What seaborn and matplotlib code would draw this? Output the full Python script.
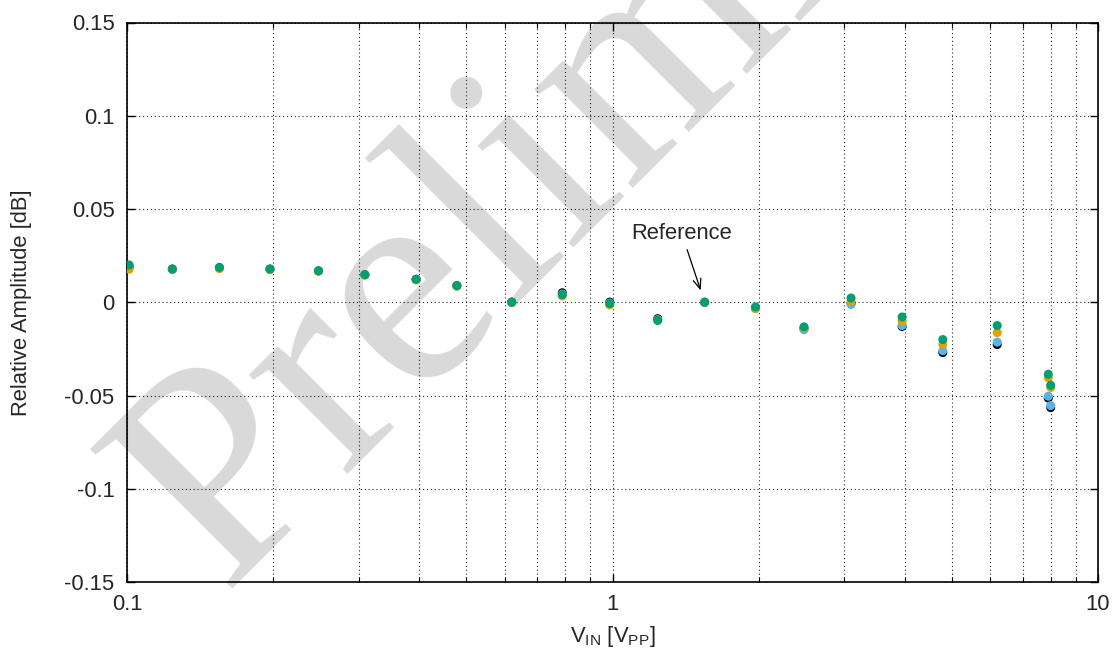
import numpy as np
import pandas as pd
import matplotlib
matplotlib.use("Agg")
import matplotlib.pyplot as plt
from matplotlib.ticker import FixedLocator, FuncFormatter, LogLocator, NullFormatter
import seaborn as sns

# Input level sweep [Vpp]
v_in = [0.101, 0.124, 0.155, 0.197, 0.248, 0.309, 0.394, 0.478, 0.620, 0.788,
        0.987, 1.239, 1.548, 1.97, 2.48, 3.10, 3.95, 4.79, 6.20, 7.90, 7.99]

# Relative amplitude [dB] for each of the four channels
ch_black = [0.0190, 0.0178, 0.0185, 0.0178, 0.0168, 0.0148, 0.0123, 0.0089, 0.0001, 0.0051,
            0.0001, -0.0088, 0.0000, -0.0030, -0.0142, -0.0005, -0.0130, -0.0270, -0.0227,
            -0.0514, -0.0565]
ch_blue = [0.0187, 0.0176, 0.0184, 0.0177, 0.0168, 0.0147, 0.0122, 0.0088, 0.0000, 0.0044,
           -0.0004, -0.0093, 0.0000, -0.0034, -0.0147, -0.0012, -0.0125, -0.0260, -0.0214,
           -0.0504, -0.0554]
ch_orange = [0.0177, 0.0177, 0.0180, 0.0175, 0.0166, 0.0145, 0.0120, 0.0086, -0.0003, 0.0034,
             -0.0014, -0.0097, 0.0000, -0.0034, -0.0137, 0.0005, -0.0102, -0.0225, -0.0163,
             -0.0404, -0.0457]
ch_green = [0.0200, 0.0178, 0.0187, 0.0178, 0.0169, 0.0148, 0.0123, 0.0089, 0.0000, 0.0041,
            -0.0007, -0.0097, 0.0000, -0.0025, -0.0132, 0.0023, -0.0079, -0.0200, -0.0125,
            -0.0386, -0.0445]

series_names = ["ch1", "ch2", "ch3", "ch4"]
series_values = [ch_black, ch_blue, ch_orange, ch_green]
series_colors = ["#000000", "#56B4E9", "#E69F00", "#009E73"]

reference_x = 1.548
reference_y = 0.0

y_ticks = [-0.15, -0.1, -0.05, 0, 0.05, 0.1, 0.15]
x_ticks = [0.1, 1, 10]

sns.set_theme(style="ticks")
plt.rcParams["font.family"] = ["Liberation Sans", "DejaVu Sans"]
plt.rcParams["mathtext.fontset"] = "custom"
plt.rcParams["mathtext.rm"] = "Liberation Sans"
plt.rcParams["mathtext.it"] = "Liberation Sans:italic"
plt.rcParams["axes.unicode_minus"] = False

FS = 15.8

df = pd.concat(
    [pd.DataFrame({"vin": v_in, "amp": vals, "channel": name})
     for name, vals in zip(series_names, series_values)],
    ignore_index=True,
)

fig = plt.figure(figsize=(11.18, 6.54), dpi=100, facecolor="white")
ax = fig.add_axes([127 / 1118, 1 - 582 / 654, (1098 - 127) / 1118, (582 - 22.5) / 654])
ax.set_facecolor("none")

sns.scatterplot(
    data=df, x="vin", y="amp", hue="channel", hue_order=series_names,
    palette=dict(zip(series_names, series_colors)),
    s=42, linewidth=0, edgecolor="none", legend=False, ax=ax, zorder=3,
)

ax.set_xscale("log")
ax.set_xlim(0.1, 10)
ax.set_ylim(-0.15, 0.15)

ax.xaxis.set_major_locator(FixedLocator(x_ticks))
ax.xaxis.set_minor_locator(LogLocator(base=10, subs=np.arange(2, 10)))
ax.xaxis.set_minor_formatter(NullFormatter())
ax.xaxis.set_major_formatter(FuncFormatter(lambda v, p: f"{v:g}"))
ax.yaxis.set_major_locator(FixedLocator(y_ticks))
ax.yaxis.set_major_formatter(FuncFormatter(lambda v, p: f"{v:g}"))

grid_kw = dict(color="black", linewidth=0.8, linestyle=(0, (1, 2.5)), alpha=0.85)
ax.grid(True, which="major", axis="both", **grid_kw)
ax.grid(True, which="minor", axis="x", **grid_kw)
ax.set_axisbelow(True)

ax.tick_params(which="major", direction="in", length=6, width=1, top=True, right=True,
               labelsize=FS, pad=9, color="black")
ax.tick_params(which="minor", direction="in", length=3.5, width=0.8, top=True, right=True,
               color="black")
for sp in ax.spines.values():
    sp.set_visible(True)
    sp.set_color("black")
    sp.set_linewidth(1.2)

ax.set_xlabel(r"V$_{\mathrm{IN}}$ [V$_{\mathrm{PP}}$]", fontsize=FS, labelpad=6)
ax.set_ylabel("Relative Amplitude [dB]", fontsize=FS, labelpad=23)

ax.annotate(
    "Reference", xy=(reference_x, reference_y), xycoords="data",
    xytext=(-23, 69), textcoords="offset pixels", ha="center", va="center",
    fontsize=FS,
    arrowprops=dict(arrowstyle="->,head_length=0.45,head_width=0.18", color="black",
                    lw=0.9, shrinkA=2, shrinkB=9),
    zorder=4,
)

# Draft watermark behind the plot
fig.text(222 / 1118, 1 - 590 / 654, "Preliminary", rotation=45,
         rotation_mode="anchor", ha="left", va="baseline",
         fontsize=218, family=["Liberation Serif", "DejaVu Serif"],
         color="#d9d9d9", zorder=-1)

fig.savefig("out.png", dpi=100, facecolor="white")
